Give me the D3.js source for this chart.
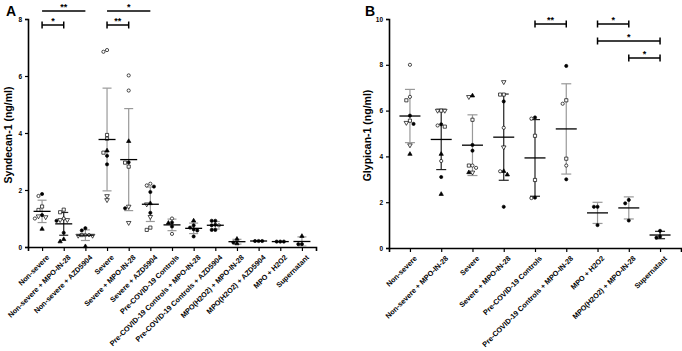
<!DOCTYPE html>
<html>
<head>
<meta charset="utf-8">
<script src="https://cdn.jsdelivr.net/npm/d3@7"></script>
<style>
  body { margin: 0; background: #fff; }
  svg text { font-family: "Liberation Sans", Arial, sans-serif; font-weight: bold; fill: #000; }
</style>
</head>
<body>
<svg id="vis" width="682" height="351"></svg>
<script>
// panel A - syndecan-1
const catsA = ["Non-severe", "Non-severe + MPO-IN-28", "Non-severe + AZD5904", "Severe",
  "Severe + MPO-IN-28", "Severe + AZD5904", "Pre-COVID-19 Controls",
  "Pre-COVID-19 Controls + MPO-IN-28", "Pre-COVID-19 Controls + AZD5904",
  "MPO(H2O2) + MPO-IN-28", "MPO(H2O2) + AZD5904", "MPO + H2O2", "Supernatant"]
const syndecan = [
  [1.79, 1.86, 1.42, 1.3, 1.12, 1.0, 1.05, 1.08, 0.63],
  [1.31, 1.22, 1.0, 0.92, 0.95, 0.95, 0.5, 0.27, 0.19],
  [0.66, 0.58, 0.42, 0.4, 0.42, 0.4, 0.42, 0.02],
  [6.85, 6.91, 3.93, 3.8, 3.31, 3.38, 3.2, 2.9, 1.79, 1.65],
  [6.02, 5.49, 3.71, 2.96, 2.97, 2.82, 1.42, 1.36, 0.85],
  [2.22, 2.16, 2.12, 1.93, 1.53, 1.5, 1.2, 1.06, 0.6, 0.68],
  [1.0, 0.86, 0.84, 0.72, 0.46],
  [0.92, 0.76, 0.68, 0.62, 0.58, 0.37],
  [0.92, 0.92, 0.76, 0.76, 0.78, 0.6, 0.6],
  [0.28, 0.16, 0.12],
  [0.21, 0.21, 0.21],
  [0.19, 0.19, 0.19],
  [0.38, 0.1, 0.1]
]
// donor symbol: o open circle, d dot, s square, t triangle, v triangle down
const donorA = [
  "odssdovvt", "ssodvvdtt", "ddovsvot", "oossstddvv", "ootsdsvdv",
  "ooddtvdvss", "odtdo", "tddddd", "dddoddd", "tdt", "ddd", "ddd", "tdd"
]
const ticksA = [0, 2, 4, 6, 8]
const sigA = [
  {from: 0, to: 2, label: "**", level: 0, caps: false},
  {from: 0, to: 1, label: "*", level: 1, caps: true},
  {from: 3, to: 5, label: "*", level: 0, caps: false},
  {from: 3, to: 4, label: "**", level: 1, caps: true}
]

// panel B - glypican-1
const catsB = ["Non-severe", "Non-severe + MPO-IN-28", "Severe", "Severe + MPO-IN-28",
  "Pre-COVID-19 Controls", "Pre-COVID-19 Controls + MPO-IN-28", "MPO + H2O2",
  "MPO(H2O2) + MPO-IN-28", "Supernatant"]
const glypican = [
  [8.0, 6.6, 6.45, 5.56, 5.47, 5.78, 5.42, 4.49, 4.1],
  [6.0, 6.0, 6.0, 5.4, 5.35, 5.3, 4.1, 3.8, 3.1, 2.35],
  [6.6, 6.65, 5.6, 4.5, 4.25, 3.6, 3.6, 3.5, 3.3, 3.3],
  [7.25, 6.7, 6.7, 6.4, 5.25, 4.4, 3.35, 3.2, 3.35, 1.8],
  [5.7, 5.65, 4.9, 2.97, 2.18, 2.2],
  [7.95, 6.45, 6.3, 3.9, 3.6, 3.0],
  [1.8, 1.8, 1.0],
  [2.1, 1.95, 1.2],
  [0.75, 0.45, 0.5]
]
const donorB = [
  "oossvddvt", "svvdostodt", "vtsddosovt", "vssdovttod", "dossod", "dsosod",
  "ddd", "ddd", "ddd"
]
const ticksB = [0, 2, 4, 6, 8, 10]
const sigB = [
  {from: 4, to: 5, label: "**", level: 0, caps: true},
  {from: 6, to: 7, label: "*", level: 0, caps: true},
  {from: 6, to: 8, label: "*", level: 1, caps: true},
  {from: 7, to: 8, label: "*", level: 2, caps: true}
]

const svg = d3.select("#vis")

const shapes = {
  o: {type: d3.symbolCircle, fill: "#fff", size: 8},
  d: {type: d3.symbolCircle, fill: "#000", size: 8},
  s: {type: d3.symbolSquare, fill: "#fff", size: 10},
  t: {type: d3.symbolTriangle, fill: "#000", size: 8},
  v: {type: d3.symbolTriangle, fill: "#fff", size: 9, flip: true}
}

// spread overlapping points sideways, like a scatter dot plot
function dodge(ys, d) {
  const order = d3.range(ys.length).sort((a, b) => ys[a] - ys[b])
  const placed = []
  const off = new Array(ys.length).fill(0)
  for (const i of order) {
    for (let k = 0; k < 20; k++) {
      const dx = (k % 2 ? -1 : 1) * Math.ceil(k / 2) * d
      const hit = placed.some(p => Math.abs(p.y - ys[i]) < d && Math.abs(p.x - dx) < d)
      if (!hit) {
        off[i] = dx
        placed.push({x: dx, y: ys[i]})
        break
      }
    }
  }
  return off
}

function drawPanel(o) {
  const g = svg.append("g")

  const x = d3.scalePoint().domain(o.cats).range([o.left, o.right]).padding(o.pad)
  const y = d3.scaleLinear().domain([0, o.max]).range([o.bottom, o.top])

  // y axis
  const ya = g.append("g")
    .attr("transform", `translate(${o.left},0)`)
    .call(d3.axisLeft(y).tickValues(o.ticks).tickSize(3).tickPadding(3))
  ya.select(".domain").attr("stroke-width", 1.6)
  ya.selectAll(".tick line").attr("stroke-width", 1.2)
  ya.selectAll("text").attr("font-size", 6.5).attr("font-weight", "bold")

  // x axis
  const xa = g.append("g")
    .attr("transform", `translate(0,${o.bottom})`)
    .call(d3.axisBottom(x).tickSizeOuter(0).tickSize(4))
  xa.select(".domain").attr("stroke-width", 1.6)
  xa.selectAll(".tick line").attr("stroke-width", 1.2)
  xa.selectAll("text")
    .attr("font-size", 7.3)
    .attr("font-weight", "bold")
    .attr("text-anchor", "end")
    .attr("dy", 0)
    .attr("transform", "translate(2,6) rotate(-45)")

  // axis title
  g.append("text")
    .attr("transform", `translate(${o.titleX},${(o.top + o.bottom) / 2 + 2}) rotate(-90)`)
    .attr("text-anchor", "middle")
    .attr("font-size", 10.5)
    .text(o.title)

  g.append("text")
    .attr("x", o.letterX).attr("y", 16)
    .attr("font-size", 14)
    .text(o.letter)

  // groups
  o.vals.forEach((vals, gi) => {
    const cx = x(o.cats[gi])
    const m = d3.mean(vals)
    const sd = d3.deviation(vals)
    const barCol = o.dark.includes(gi) ? "#222" : "#999"

    g.append("line")
      .attr("x1", cx).attr("x2", cx)
      .attr("y1", y(m + sd)).attr("y2", y(Math.max(0, m - sd)))
      .attr("stroke", barCol).attr("stroke-width", 1.2)
    ;[m + sd, Math.max(0, m - sd)].forEach(v => {
      g.append("line")
        .attr("x1", cx - o.cap).attr("x2", cx + o.cap)
        .attr("y1", y(v)).attr("y2", y(v))
        .attr("stroke", barCol).attr("stroke-width", 1.2)
    })

    const ys = vals.map(v => y(v))
    const offs = dodge(ys, 3.6)
    vals.forEach((v, i) => {
      const sh = shapes[o.donor[gi][i]]
      g.append("path")
        .attr("d", d3.symbol().type(sh.type).size(sh.size)())
        .attr("transform", `translate(${cx + offs[i]},${y(v)})` + (sh.flip ? " rotate(180)" : ""))
        .attr("fill", sh.fill)
        .attr("stroke", "#000")
        .attr("stroke-width", 0.7)
    })

    g.append("line")
      .attr("x1", cx - o.meanW).attr("x2", cx + o.meanW)
      .attr("y1", y(m)).attr("y2", y(m))
      .attr("stroke", "#000").attr("stroke-width", 1.3)
  })

  // significance bars
  o.sig.forEach(s => {
    const x1 = x(o.cats[s.from])
    const x2 = x(o.cats[s.to])
    const yy = o.sigTop + s.level * o.sigStep
    g.append("line")
      .attr("x1", x1).attr("x2", x2).attr("y1", yy).attr("y2", yy)
      .attr("stroke", "#000").attr("stroke-width", 1.5)
    if (s.caps) {
      ;[x1, x2].forEach(xx => {
        g.append("line")
          .attr("x1", xx).attr("x2", xx).attr("y1", yy - 3.5).attr("y2", yy + 3.5)
          .attr("stroke", "#000").attr("stroke-width", 1.5)
      })
    }
    g.append("text")
      .attr("x", (x1 + x2) / 2).attr("y", yy - 1.5)
      .attr("text-anchor", "middle")
      .attr("font-size", 9)
      .text(s.label)
  })
}

drawPanel({
  cats: catsA, vals: syndecan, donor: donorA, ticks: ticksA, sig: sigA,
  max: 8, left: 28, right: 316, pad: 0.65, top: 19, bottom: 247,
  title: "Syndecan-1 (ng/ml)", titleX: 12, letter: "A", letterX: 6,
  cap: 4.5, meanW: 8.5, sigTop: 11, sigStep: 14, dark: [1]
})

drawPanel({
  cats: catsB, vals: glypican, donor: donorB, ticks: ticksB, sig: sigB,
  max: 10, left: 389, right: 681, pad: 0.67, top: 19, bottom: 248,
  title: "Glypican-1 (ng/ml)", titleX: 371, letter: "B", letterX: 365,
  cap: 5, meanW: 10.5, sigTop: 24, sigStep: 17, dark: [1, 3, 4, 8]
})
</script>
</body>
</html>
